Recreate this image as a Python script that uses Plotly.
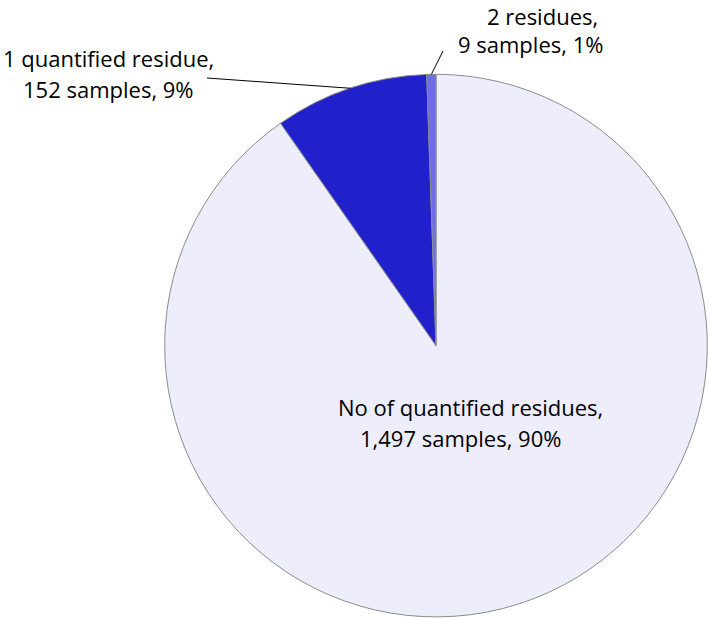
import math
import plotly.graph_objects as go

# ---- data ----
categories = ["No of quantified residues", "1 quantified residue", "2 residues"]
samples = [1497, 152, 9]
percent_labels = [90, 9, 1]
colors = ["#EDEDFB", "#2121CC", "#6E6EE8"]

W, H = 709, 618
cx, cy, r = 436.0, 345.6, 271.3  # pie geometry in pixels


def px(x):
    return x / W


def py(y):
    return 1 - y / H


fig = go.Figure(go.Pie(
    labels=categories,
    values=samples,
    sort=False,
    direction="clockwise",
    rotation=0,
    textinfo="none",
    hoverinfo="none",
    marker=dict(colors=colors, line=dict(color="#8C8C8C", width=1)),
    domain=dict(x=[px(cx - r), px(cx + r)], y=[py(cy + r), py(cy - r)]),
    showlegend=False,
))

# slice mid-angles (clockwise from 12 o'clock), from data
total = sum(samples)
cum = 0
mids = []
for v in samples:
    mids.append((cum + v / 2) / total * 2 * math.pi)
    cum += v


def edge_point(a):
    return cx + r * math.sin(a), cy - r * math.cos(a)


texts = [f"{c},<br>{n:,} samples, {p}%" for c, n, p in zip(categories, samples, percent_labels)]

# label line centres (pixel positions)
label_pos = [
    [(470, 407), (460, 438)],
    [(108, 58), (108, 89)],
    [(542, 16), (530, 44)],
]
leader_start = [None, (207, 78), (443, 51)]

font = dict(family="Open Sans", size=22, color="#000000")
annotations = []
for t, lines_pos in zip(texts, label_pos):
    for line, (x, y) in zip(t.split("<br>"), lines_pos):
        annotations.append(dict(
            x=px(x), y=py(y), xref="paper", yref="paper",
            text=line, showarrow=False, xanchor="center", yanchor="middle",
            font=font,
        ))

shapes = []
for i, st in enumerate(leader_start):
    if st is None:
        continue
    ex, ey = edge_point(mids[i])
    shapes.append(dict(
        type="line", xref="paper", yref="paper",
        x0=px(st[0]), y0=py(st[1]), x1=px(ex), y1=py(ey),
        line=dict(color="#000000", width=1),
    ))

fig.update_layout(
    width=W, height=H,
    margin=dict(l=0, r=0, t=0, b=0),
    paper_bgcolor="white",
    plot_bgcolor="white",
    annotations=annotations,
    shapes=shapes,
)

fig.write_html("out.html", config={"displayModeBar": False},
               post_script="document.body.style.margin='0';")
